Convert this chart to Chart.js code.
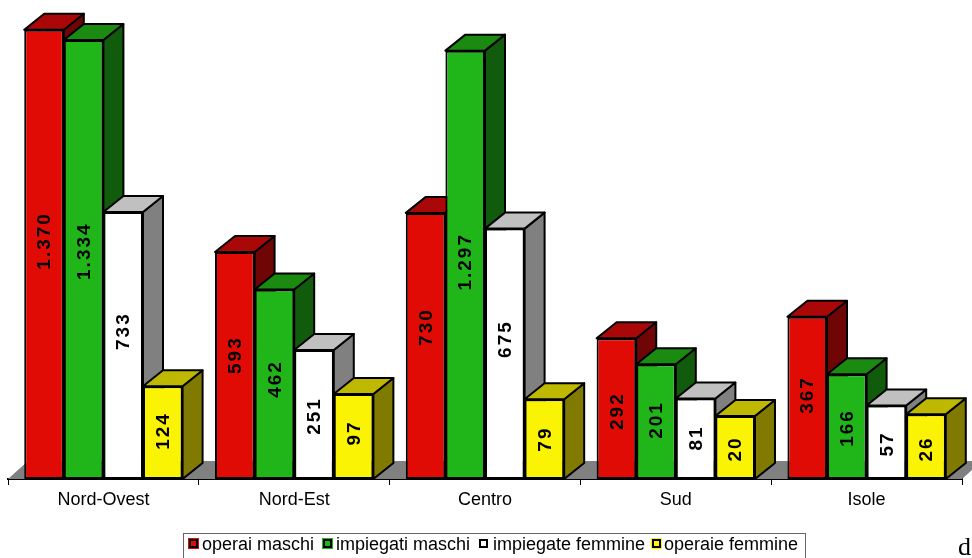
<!DOCTYPE html>
<html lang="it">
<head>
<meta charset="utf-8">
<title>Nord-Ovest, Nord-Est, Centro, Sud, Isole</title>
<script src="https://cdn.jsdelivr.net/npm/chart.js@4/dist/chart.umd.min.js"></script>
<style>
  html, body { margin: 0; padding: 0; background: #fff; overflow: hidden; }
  #wrap { position: relative; width: 972px; height: 558px; overflow: hidden; }
  #chart { position: absolute; left: 0; top: 0; }
  #legend {
    position: absolute; left: 183px; top: 533px; width: 623px; height: 40px;
    border: 1px solid #666; box-sizing: border-box;
    font: 18px "Liberation Sans", Arial, sans-serif; color: #000;
  }
  #legend .item { position: absolute; top: 0; white-space: nowrap; line-height: 21px; }
  #legend .swatch {
    position: absolute; top: 5px; width: 5px; height: 5px;
    border: 2px solid #000; outline: 1px solid;
  }
  #note { position: absolute; left: 958px; top: 532px; font: 26px "Liberation Serif", serif; color: #000; }
</style>
</head>
<body>
<div id="wrap">
  <canvas id="chart" width="972" height="558"></canvas>
  <div id="legend"></div>
  <div id="note">d</div>
</div>
<script>
/* ── Dati ── */
const AREE = ['Nord-Ovest', 'Nord-Est', 'Centro', 'Sud', 'Isole'];
const SERIE = ['operai maschi', 'impiegati maschi', 'impiegate femmine', 'operaie femmine'];

const operaiMaschi     = [1370, 593, 730, 292, 367];
const impiegatiMaschi  = [1334, 462, 1297, 201, 166];
const impiegateFemmine = [733, 251, 675, 81, 57];
const operaieFemmine   = [124, 97, 79, 20, 26];

const VALORI = [operaiMaschi, impiegatiMaschi, impiegateFemmine, operaieFemmine];

/* ── Paleta: fronte, tetto, fianco ── */
const FRONTE = ['#E00B05', '#20B518', '#FFFFFF', '#FBF304'];
const TETTO  = ['#AA0808', '#1A8A10', '#C0C0C0', '#BFB800'];
const FIANCO = ['#6F0505', '#105C0C', '#808080', '#807B00'];

const SCALA_MIN = -200;
const SCALA_MAX = 1425;
const DX = 20, DY = 16;            // profondità dell'effetto 3D
const LEG_X = [5, 139, 295, 468];  // posizione delle voci in legenda
const LEG_TXT = [18, 152, 309, 480];

// altezza dell'etichetta lungo la barra (0 = cima, 1 = base), per serie e area
const POS_ETICHETTA = [
  [.470, .454, .429, .518, .482],
  [.481, .472, .493, .486, .513],
  [.446, .512, .441, .490, .524],
  [.482, .459, .500, .524, .536],
];

const fmt = v => String(v).replace(/\B(?=(\d{3})+$)/g, '.');

function poly(ctx, pts, fill) {
  ctx.beginPath();
  pts.forEach(([x, y], i) => i ? ctx.lineTo(x, y) : ctx.moveTo(x, y));
  ctx.closePath();
  ctx.fillStyle = fill;
  ctx.fill();
  ctx.stroke();
}

/* pavimento e facce laterali, sotto le barre */
const profondita = {
  id: 'profondita',
  beforeDatasetsDraw(chart) {
    const { ctx, chartArea: a } = chart;
    ctx.save();
    ctx.fillStyle = '#808080';
    ctx.beginPath();
    ctx.moveTo(a.left, a.bottom);
    ctx.lineTo(a.left + DX, a.bottom - 18);
    ctx.lineTo(a.right + DX, a.bottom - 18);
    ctx.lineTo(a.right, a.bottom);
    ctx.closePath();
    ctx.fill();

    ctx.strokeStyle = '#000';
    ctx.lineWidth = 2;
    ctx.lineJoin = 'round';
    AREE.forEach((_, i) => {
      VALORI.forEach((_, d) => {
        const bar = chart.getDatasetMeta(d).data[i];
        const l = bar.x - bar.width / 2, r = bar.x + bar.width / 2;
        const t = bar.y, b = bar.base;
        poly(ctx, [[r, t], [r + DX, t - DY], [r + DX, b - DY], [r, b]], FIANCO[d]);
        poly(ctx, [[l, t], [l + DX, t - DY], [r + DX, t - DY], [r, t]], TETTO[d]);
      });
    });
    ctx.restore();
  },
  /* valori ruotati dentro le barre */
  afterDatasetsDraw(chart) {
    const { ctx } = chart;
    ctx.save();
    ctx.font = 'bold 19px "Liberation Sans", Arial, sans-serif';
    ctx.letterSpacing = '2px';
    ctx.fillStyle = '#000';
    ctx.textAlign = 'center';
    ctx.textBaseline = 'middle';
    VALORI.forEach((serie, d) => {
      serie.forEach((v, i) => {
        const bar = chart.getDatasetMeta(d).data[i];
        ctx.save();
        ctx.translate(bar.x, bar.y + (bar.base - bar.y) * POS_ETICHETTA[d][i]);
        ctx.rotate(-Math.PI / 2);
        ctx.fillText(fmt(v), 0, 1);
        ctx.restore();
      });
    });
    ctx.restore();
  }
};

new Chart(document.getElementById('chart').getContext('2d'), {
  type: 'bar',
  data: {
    labels: AREE,
    datasets: SERIE.map((nome, d) => ({
      label: nome,
      data: VALORI[d],
      base: SCALA_MIN,
      backgroundColor: FRONTE[d],
      borderColor: '#000',
      borderWidth: 2,
      borderSkipped: false,
      barPercentage: 1,
      categoryPercentage: 0.83,
    })),
  },
  options: {
    responsive: false,
    animation: false,
    layout: { padding: { left: 8, right: 10, top: 14, bottom: 0 } },
    plugins: { legend: { display: false }, tooltip: { enabled: false } },
    scales: {
      y: { display: false, min: SCALA_MIN, max: SCALA_MAX },
      x: {
        afterFit: s => { s.height = 79; },
        border: { color: '#000', width: 2 },
        grid: { drawOnChartArea: false, color: '#000', tickLength: 6, tickWidth: 1 },
        ticks: { color: '#000', padding: 4, maxRotation: 0, font: { family: '"Liberation Sans", Arial, sans-serif', size: 18 } },
      },
    },
  },
  plugins: [profondita],
});

/* ── Legenda ── */
const legenda = document.getElementById('legend');
SERIE.forEach((nome, d) => {
  const s = document.createElement('span');
  s.className = 'swatch';
  s.style.left = LEG_X[d] + 'px';
  s.style.background = FRONTE[d];
  s.style.outlineColor = FRONTE[d];
  legenda.appendChild(s);
  const t = document.createElement('span');
  t.className = 'item';
  t.style.left = LEG_TXT[d] + 'px';
  t.textContent = nome;
  legenda.appendChild(t);
});
</script>
</body>
</html>
